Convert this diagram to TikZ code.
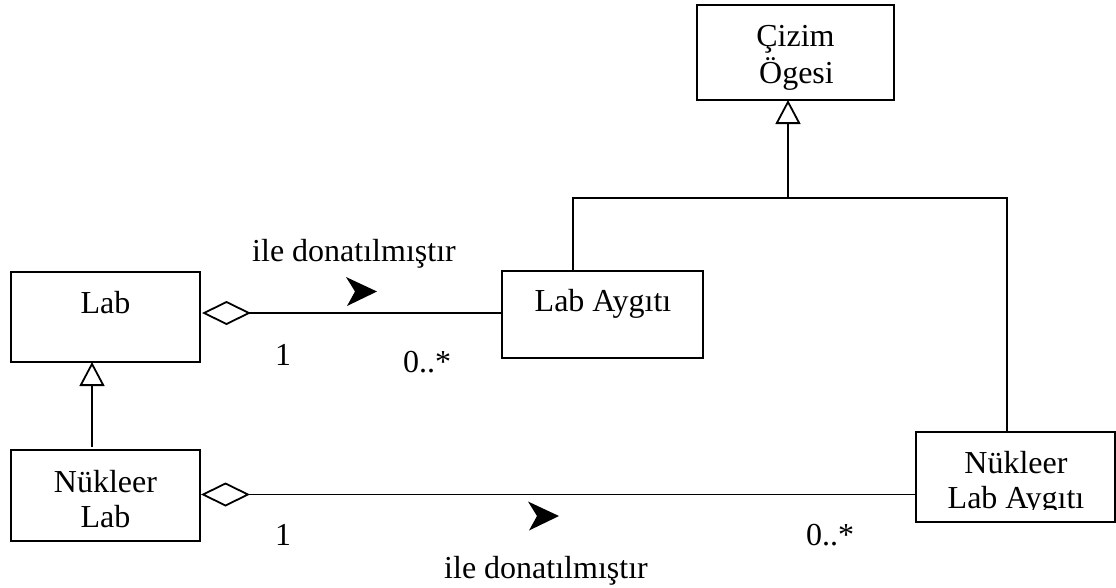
\documentclass[tikz,border=0pt]{standalone}
\usepackage{fontspec}
\setmainfont{Liberation Serif}
\usetikzlibrary{arrows.meta}
\tikzset{
  classbox/.style={draw, line width=1.8pt, inner sep=0pt, outer sep=0pt},
  txt/.style={inner sep=0pt, anchor=base, font=\fontsize{32}{36}\selectfont},
  link/.style={line width=1.8pt},
  gen/.style={link, -{Triangle[open, length=24pt, width=25pt, line width=1.8pt]}},
  agg/.style={link, {Diamond[open, length=49pt, width=24pt, line width=1.8pt]}-},
  dirhead/.pic={\fill (0,0) -- (-31,-14.5) -- (-22,0) -- (-30,14.5) -- cycle;}
}
\begin{document}
\begin{tikzpicture}[x=1pt, y=-1pt]
\useasboundingbox (0,0) rectangle (1116,587);

% class boxes
\node[classbox, minimum width=197pt, minimum height=95pt] (cizim) at (795.5,52.5) {};
\node[classbox, minimum width=189pt, minimum height=90pt] (lab) at (105.5,317) {};
\node[classbox, minimum width=201pt, minimum height=87pt] (aygit) at (602.5,314.5) {};
\node[classbox, minimum width=189pt, minimum height=91pt] (nlab) at (105.5,495.5) {};
\node[classbox, minimum width=199pt, minimum height=90pt] (nla) at (1015.5,477) {};

% class names
\node[txt] (cizimA) at (795.5,46.5) {Çizim};
\node[txt] (cizimB) at (796.5,83.5) {Ögesi};
\node[txt] (labT) at (105.5,313) {Lab};
\node[txt] (aygitT) at (603,311) {Lab Aygıtı};
\node[txt] (nlabA) at (105.5,492) {Nükleer};
\node[txt] (nlabB) at (105.5,527) {Lab};
\node[txt] (nlaA) at (1016,473) {Nükleer};
\begin{scope}
  \clip (916,440) rectangle (1115,509);
  \node[txt] (nlaB) at (1016,508) {Lab Aygıtı};
\end{scope}

% generalisation tree up to Çizim Ögesi
\coordinate (join) at (788,198);
\draw[link] ([xshift=-29.5pt]aygit.north) |- (join) -| ([xshift=-8.5pt]nla.north);
\draw[gen] (join) -- ([xshift=-7.5pt]cizim.south);

% Nükleer Lab is a Lab
\draw[gen] ([xshift=-13.5pt,yshift=3pt]nlab.north) -- ([xshift=-13.5pt]lab.south);

% aggregations
\coordinate (a1) at ([yshift=4pt,xshift=2pt]lab.east);
\draw[agg] (a1) -- (a1 -| aygit.west);
\coordinate (a2) at ([yshift=1pt,xshift=1pt]nlab.east);
\draw[agg] (a2) -- (a2 -| nla.west);

% association names with reading direction
\node[txt] (rel1) at (354,261) {ile donatılmıştır};
\pic at (377,291.5) {dirhead};
\node[txt] (rel2) at (546,578) {ile donatılmıştır};
\pic at (559,516) {dirhead};

% multiplicities
\node[txt] (m1) at (283,365) {1};
\node[txt] (m2) at (427,372) {0..*};
\node[txt] (m3) at (283,545) {1};
\node[txt] (m4) at (830,545) {0..*};
\end{tikzpicture}
\end{document}
